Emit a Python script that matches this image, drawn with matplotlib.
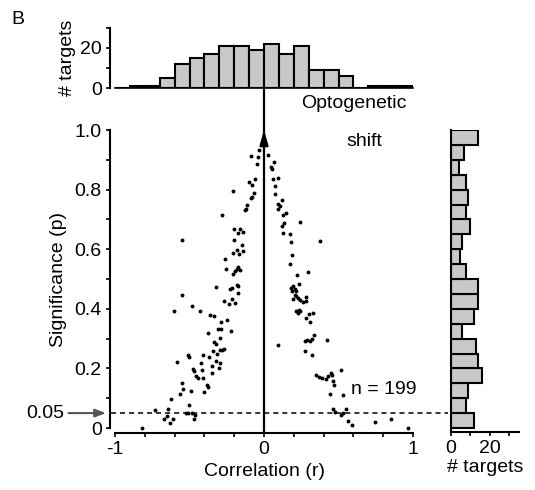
import matplotlib
matplotlib.use("Agg")
import matplotlib.pyplot as plt

plt.rcParams['font.family'] = ['Liberation Sans', 'DejaVu Sans']
plt.rcParams['font.size'] = 14
plt.rcParams['axes.unicode_minus'] = False

# puntos: correlacion (r) y significancia (p) de cada target
r = [-0.032, -0.087, -0.037, -0.045, -0.058, -0.101, -0.083, -0.206, -0.065, -0.083,
     -0.087, -0.112, -0.121, -0.128, -0.284, -0.199, -0.161,
     0.027, 0.067, 0.049, 0.056, 0.060, 0.094, 0.072, 0.072, 0.123, 0.094,
     0.105, 0.094, 0.150, 0.128, 0.132, 0.123, 0.240,
     -0.172, -0.139, -0.548, -0.199, -0.150, -0.179, -0.166, -0.143, -0.210, -0.262,
     -0.257, -0.183, -0.172, -0.161, -0.195, -0.206, -0.324, -0.228, -0.217, -0.183,
     -0.172, -0.172, -0.552, -0.217, -0.268, -0.233, -0.195, -0.481, -0.604, -0.430,
     -0.362, -0.336, -0.289, -0.250,
     0.128, 0.172, 0.374, 0.179, 0.190, 0.177, 0.221, 0.295, 0.235,
     0.183, 0.195, 0.206, 0.190, 0.217, 0.206, 0.217, 0.228, 0.195, 0.240,
     0.262, 0.280, 0.284, 0.217, 0.235, 0.244, 0.228, 0.329, 0.284, 0.307, 0.302,
     -0.378, -0.307, -0.289, -0.221, -0.295, -0.334, -0.324, -0.586, -0.508, -0.503,
     -0.407, -0.367, -0.340, -0.317, -0.295, -0.280, -0.266, -0.322, -0.295, -0.423,
     -0.302, -0.347, -0.474, -0.468, -0.418, -0.351, -0.458, -0.445, -0.407, -0.552,
     -0.385, -0.374, -0.542, -0.490, -0.401, -0.564, -0.624, -0.503, -0.732, -0.642,
     -0.669, -0.609, -0.631, -0.526, -0.510, -0.485, -0.463, -0.470, -0.822, -0.651,
     0.094, 0.273, 0.289, 0.307, 0.324, 0.334, 0.423, 0.273, 0.324, 0.351,
     0.369, 0.391, 0.414, 0.430, 0.452, 0.458, 0.519, 0.463, 0.468, 0.441,
     0.530, 0.463, 0.474, 0.515, 0.530, 0.548, 0.564, 0.593, 0.743, 0.850, 0.966]
p = [0.933, 0.913, 0.909, 0.886, 0.837, 0.824, 0.815, 0.795, 0.788, 0.776,
     0.771, 0.748, 0.734, 0.732, 0.715, 0.669, 0.668,
     0.916, 0.892, 0.877, 0.868, 0.835, 0.838, 0.812, 0.785, 0.765, 0.752,
     0.745, 0.734, 0.722, 0.715, 0.687, 0.678, 0.692,
     0.654, 0.658, 0.630, 0.632, 0.613, 0.598, 0.585, 0.593, 0.587, 0.567,
     0.535, 0.535, 0.539, 0.529, 0.528, 0.517, 0.473, 0.467, 0.470, 0.479,
     0.476, 0.453, 0.447, 0.433, 0.425, 0.417, 0.419, 0.410, 0.394, 0.392,
     0.378, 0.377, 0.356, 0.363,
     0.654, 0.652, 0.629, 0.624, 0.582, 0.551, 0.514, 0.522, 0.483,
     0.470, 0.476, 0.467, 0.461, 0.459, 0.447, 0.442, 0.436, 0.434, 0.431,
     0.423, 0.440, 0.427, 0.394, 0.397, 0.394, 0.386, 0.386, 0.369, 0.355, 0.383,
     0.318, 0.331, 0.331, 0.326, 0.303, 0.289, 0.281, 0.221, 0.245, 0.239,
     0.244, 0.239, 0.258, 0.247, 0.262, 0.262, 0.266, 0.225, 0.217, 0.217,
     0.200, 0.208, 0.197, 0.191, 0.195, 0.186, 0.174, 0.169, 0.169, 0.152,
     0.143, 0.138, 0.132, 0.124, 0.122, 0.113, 0.098, 0.077, 0.060, 0.063,
     0.031, 0.031, 0.016, 0.049, 0.049, 0.049, 0.043, 0.029, 0.001, 0.040,
     0.278, 0.292, 0.295, 0.292, 0.300, 0.311, 0.295, 0.258, 0.244, 0.177,
     0.172, 0.169, 0.165, 0.174, 0.184, 0.177, 0.194, 0.158, 0.143, 0.113,
     0.110, 0.063, 0.054, 0.043, 0.049, 0.063, 0.023, 0.011, 0.021, 0.029, 0.0]

# histograma superior (bins de r, ancho 0.1)
top_bins = [-1.0, -0.9, -0.8, -0.7, -0.6, -0.5, -0.4, -0.3, -0.2, -0.1,
            0.0, 0.1, 0.2, 0.3, 0.4, 0.5, 0.6, 0.7, 0.8, 0.9]
top_counts = [0, 1, 1, 5, 12, 15, 17, 21, 21, 19, 22, 17, 21, 9, 9, 6, 0, 1, 1, 1]

# histograma derecho (bins de p, ancho 0.05)
right_bins = [0.00, 0.05, 0.10, 0.15, 0.20, 0.25, 0.30, 0.35, 0.40, 0.45,
              0.50, 0.55, 0.60, 0.65, 0.70, 0.75, 0.80, 0.85, 0.90, 0.95]
right_counts = [12, 8, 9, 16, 14, 13, 6, 12, 14, 14, 8, 5, 6, 10, 8, 9, 8, 4, 7, 14]

W, H = 535, 490
fig = plt.figure(figsize=(W / 100, H / 100), dpi=100)
ax = fig.add_axes([115 / W, 62 / H, 298 / W, 298 / H])
axt = fig.add_axes([115 / W, 402 / H, 298 / W, 60 / H])
axr = fig.add_axes([450.7 / W, 58 / H, 68.3 / W, 302 / H])

bar_kw = dict(color='#c8c8c8', edgecolor='k', linewidth=1.5)
tick_kw = dict(direction='out', length=3, width=1.2, pad=3)

# scatter principal
ax.plot(r, p, 'o', ms=2.8, mew=0, color='k', clip_on=False, zorder=3)
ax.set_xlim(-1, 1)
ax.set_ylim(0, 1)
for s in ['top', 'right']:
    ax.spines[s].set_visible(False)
for s in ['left', 'bottom']:
    ax.spines[s].set_position(('outward', 3.6))
    ax.spines[s].set_linewidth(1.5)
ax.spines['left'].set_bounds(0, 1)
ax.spines['bottom'].set_bounds(-1, 1)
ax.set_xticks([-1, 0, 1])
ax.set_xticklabels(['-1', '0', '1'])
ax.set_xticks([-0.8, -0.6, -0.4, -0.2, 0.2, 0.4, 0.6, 0.8], minor=True)
ax.set_yticks([0, 0.2, 0.4, 0.6, 0.8, 1.0])
ax.set_yticklabels(['0', '0.2', '0.4', '0.6', '0.8', '1.0'])
ax.set_yticks([0.1, 0.3, 0.5, 0.7, 0.9], minor=True)
ax.tick_params(which='both', **tick_kw)
ax.set_xlabel('Correlation (r)', labelpad=3)
ax.set_ylabel('Significance (p)', labelpad=5)

# linea p = 0.05
ax.plot([-1.03, 1.235], [0.05, 0.05], color='k', lw=1.1, ls=(0, (3.3, 2.6)),
        clip_on=False)
ax.annotate('0.05', xy=(-1.06, 0.05), xytext=(-1.34, 0.05), ha='right', va='center',
            arrowprops=dict(arrowstyle='-|>,head_length=0.4,head_width=0.15',
                            mutation_scale=16, color='#555555', lw=1.5,
                            shrinkA=1, shrinkB=0),
            annotation_clip=False)

# desplazamiento optogenetico
ax.plot([0, 0], [-0.017, 1.141], color='k', lw=1.6, clip_on=False, zorder=4)
ax.annotate('', xy=(0, 1.0), xytext=(0, 0.9),
            arrowprops=dict(arrowstyle='-|>,head_length=0.45,head_width=0.13',
                            mutation_scale=20, color='k', lw=1.5,
                            shrinkA=0, shrinkB=0),
            annotation_clip=False, zorder=5)
fig.text(354 / W, 1 - 104 / H, 'Optogenetic', ha='center', va='center')
fig.text(364 / W, 1 - 141 / H, 'shift', ha='center', va='center')
fig.text(351 / W, 1 - 389 / H, 'n = 199', ha='left', va='center')

# histograma superior
axt.bar(top_bins, top_counts, width=0.1, align='edge', **bar_kw)
axt.set_xlim(-1, 1)
axt.set_ylim(0, 30)
for s in ['top', 'right']:
    axt.spines[s].set_visible(False)
axt.spines['left'].set_position(('outward', 3.6))
axt.spines['left'].set_linewidth(1.5)
axt.spines['bottom'].set_linewidth(1.2)
axt.set_xticks([])
axt.set_yticks([0, 20])
axt.set_yticks([10, 30], minor=True)
axt.tick_params(which='both', **tick_kw)
axt.set_ylabel('# targets', labelpad=3)

# histograma derecho
axr.barh(right_bins, right_counts, height=0.05, align='edge', **bar_kw)
axr.set_xlim(0, 35)
axr.set_ylim(-4 / 298, 1.0)
for s in ['top', 'right']:
    axr.spines[s].set_visible(False)
for s in ['left', 'bottom']:
    axr.spines[s].set_linewidth(1.5)
axr.set_yticks([])
axr.set_xticks([0, 20])
axr.set_xticks([10, 30], minor=True)
axr.tick_params(which='both', **tick_kw)
axr.set_xlabel('# targets', labelpad=1)

fig.text(18 / W, 1 - 20 / H, 'B', ha='center', va='center')

fig.savefig('out.png', dpi=100)
